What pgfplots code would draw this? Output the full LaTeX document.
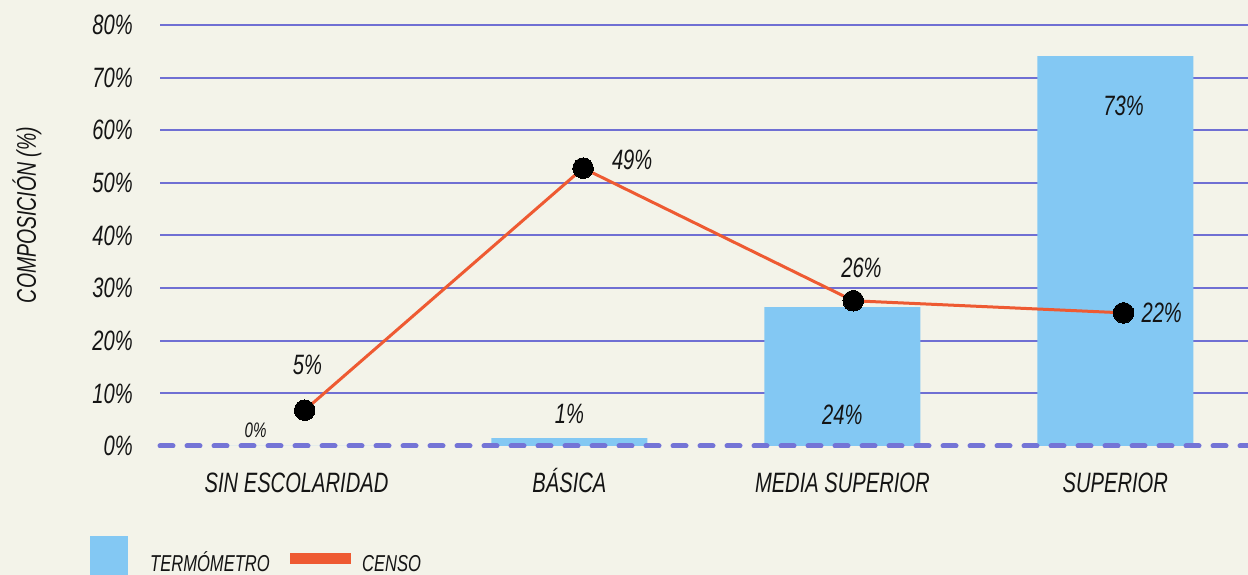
\documentclass[border=0pt]{standalone}
\usepackage{fontspec}
\setmainfont{Liberation Sans}[FakeStretch=0.72]
\usepackage{pgfplots}
\pgfplotsset{compat=1.18}
\definecolor{bg}{HTML}{F3F3E9}
\definecolor{gridc}{HTML}{6F6FD3}
\definecolor{barc}{HTML}{83C8F3}
\definecolor{linec}{HTML}{EE5A32}
\definecolor{zeroc}{HTML}{7474D6}
\definecolor{txt}{HTML}{141414}
\newcommand{\lab}{\fontsize{28}{31}\selectfont\itshape}
\begin{document}
\begin{tikzpicture}[x=1pt,y=1pt]
\fill[bg] (0,0) rectangle (1248,575);
\useasboundingbox (0,0) rectangle (1248,575);
\begin{axis}[
  at={(160pt,129pt)}, anchor=south west,
  scale only axis, width=1088pt, height=421pt,
  xmin=-0.5, xmax=3.486, ymin=0, ymax=80,
  axis line style={draw=none},
  major tick length=0pt,
  ytick={10,20,...,80},
  yticklabels={10\%,20\%,30\%,40\%,50\%,60\%,70\%,80\%},
  extra y ticks={0}, extra y tick labels={0\%},
  extra y tick style={grid=none},
  ymajorgrids,
  grid style={gridc, line width=2pt},
  yticklabel style={font=\lab, text=txt, anchor=east, inner sep=0pt, xshift=-27pt},
  xtick={0,1,2,3},
  xticklabels={SIN ESCOLARIDAD, BÁSICA, MEDIA SUPERIOR, SUPERIOR},
  xticklabel style={font=\lab, text=txt, anchor=base, inner sep=0pt, yshift=-47pt},
  clip=false,
]
\addplot[ybar, bar width=156pt, fill=barc, draw=none] coordinates {(0,0) (1,1.5) (2,26.4) (3,74.1)};
\draw[zeroc, line width=5pt, line cap=round, dash pattern=on 13pt off 14pt] (axis cs:-0.5,0) -- (axis cs:3.486,0);
\addplot[linec, line width=3pt, mark=*, mark size=10.3pt, mark options={fill=black, draw=black, line width=0pt}] coordinates {(0.03,6.8) (1.05,52.8) (2.04,27.6) (3.03,25.3)};
\node[font=\lab, text=txt] at (axis cs:0.04,15.4) {5\%};
\node[font=\fontsize{21}{24}\selectfont\itshape, text=txt] at (axis cs:-0.15,3.0) {0\%};
\node[font=\lab, text=txt] at (axis cs:1,6.1) {1\%};
\node[font=\lab, text=txt] at (axis cs:1.23,54.4) {49\%};
\node[font=\lab, text=txt] at (axis cs:2.07,33.8) {26\%};
\node[font=\lab, text=txt] at (axis cs:2,5.9) {24\%};
\node[font=\lab, text=txt] at (axis cs:3.03,64.6) {73\%};
\node[font=\lab, text=txt] at (axis cs:3.17,25.3) {22\%};
\end{axis}
\node[rotate=90, font=\fontsize{27}{30}\selectfont\itshape, text=txt] at (27,360) {COMPOSICIÓN (\%)};
\fill[barc] (90,0) rectangle (128,39);
\node[anchor=base west, inner sep=0pt, font=\fontsize{23}{26}\selectfont\itshape, text=txt] at (150,3) {TERMÓMETRO};
\fill[linec] (290,11) rectangle (351,22);
\node[anchor=base west, inner sep=0pt, font=\fontsize{23}{26}\selectfont\itshape, text=txt] at (362,3) {CENSO};
\end{tikzpicture}
\end{document}
